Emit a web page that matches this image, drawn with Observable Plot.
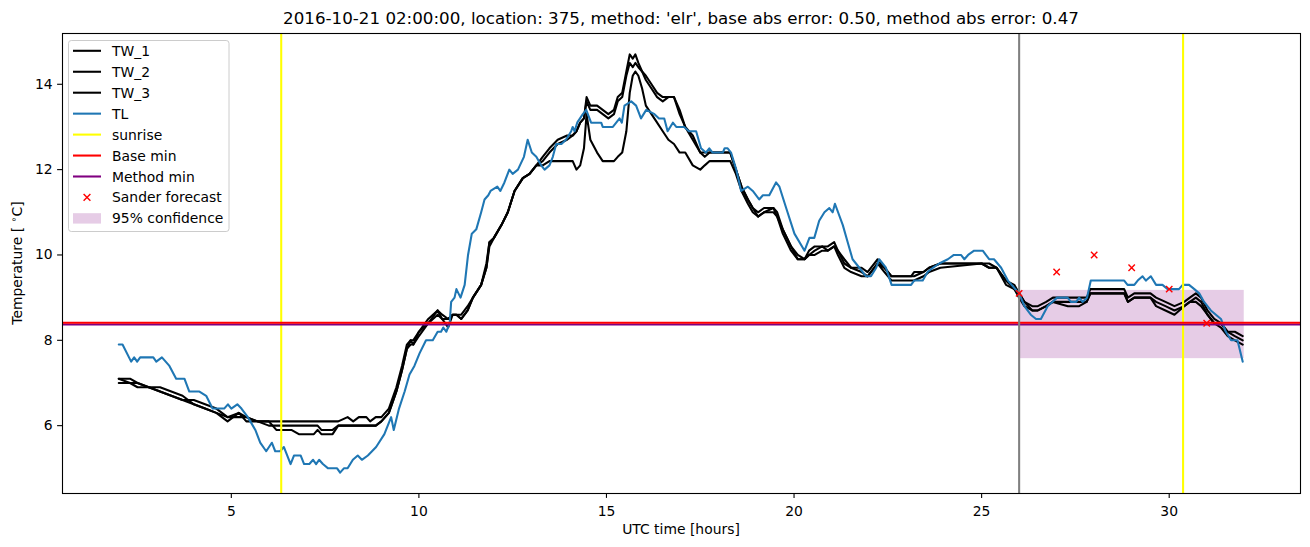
<!DOCTYPE html>
<html><head><meta charset="utf-8">
<script src="https://cdn.jsdelivr.net/npm/d3@7"></script>
<script src="https://cdn.jsdelivr.net/npm/@observablehq/plot@0.6"></script>
<style>html,body{margin:0;padding:0;background:#fff} svg{display:block}</style>
</head><body><div id="chart"></div>
<script>
const titleText = "2016-10-21 02:00:00, location: 375, method: 'elr', base abs error: 0.50, method abs error: 0.47";
const xTicks = [5, 10, 15, 20, 25, 30];
const yTicks = [6, 8, 10, 12, 14];

const tlHours = [2.0,2.1,2.33,2.41,2.49,2.57,2.92,3.0,3.15,3.35,3.53,3.75,3.88,4.15,4.33,4.5,4.81,4.91,5.0,5.16,5.27,5.44,5.64,5.77,5.93,6.08,6.17,6.3,6.4,6.58,6.67,6.85,6.94,7.08,7.18,7.26,7.34,7.44,7.58,7.82,7.9,8.0,8.1,8.24,8.37,8.48,8.64,8.86,9.08,9.26,9.33,9.47,9.62,9.75,9.88,10.02,10.19,10.37,10.5,10.59,10.65,10.73,10.82,10.86,10.95,11.0,11.11,11.22,11.31,11.41,11.53,11.66,11.75,11.85,11.91,12.09,12.17,12.28,12.41,12.5,12.64,12.8,12.9,13.01,13.13,13.26,13.35,13.48,13.57,13.66,13.8,13.92,14.06,14.1,14.15,14.22,14.37,14.46,14.59,14.72,14.86,14.9,15.17,15.26,15.35,15.41,15.48,15.66,15.79,15.92,16.06,16.28,16.4,16.54,16.63,16.77,16.86,17.07,17.2,17.39,17.52,17.65,17.74,17.83,18.1,18.15,18.23,18.32,18.46,18.59,18.77,18.9,19.07,19.17,19.34,19.52,19.61,19.79,20.01,20.28,20.41,20.54,20.67,20.81,20.94,21.03,21.09,21.3,21.43,21.56,21.74,21.92,22.05,22.19,22.27,22.45,22.6,23.12,23.2,23.43,23.56,23.7,23.87,24.1,24.26,24.45,24.54,24.64,24.8,25.03,25.2,25.33,25.52,25.7,26.0,26.14,26.31,26.45,26.58,26.76,27.01,27.29,27.38,27.52,27.6,27.69,27.81,27.91,28.8,28.89,29.07,29.16,29.29,29.38,29.51,29.65,29.82,29.96,30.26,30.36,30.53,30.67,30.8,30.93,31.11,31.38,31.51,31.65,31.73,31.82,31.96];
const tlTemps = [7.9,7.9,7.5,7.6,7.5,7.6,7.6,7.5,7.6,7.4,7.1,7.1,6.8,6.8,6.7,6.4,6.4,6.5,6.4,6.5,6.4,6.2,5.9,5.6,5.4,5.6,5.4,5.4,5.5,5.1,5.3,5.3,5.1,5.1,5.2,5.1,5.2,5.1,5.0,5.0,4.9,5.0,5.0,5.2,5.3,5.2,5.3,5.5,5.8,6.2,5.9,6.4,6.8,7.2,7.4,7.7,8.0,8.0,8.2,8.2,8.3,8.2,8.4,8.9,9.0,9.2,9.0,9.3,10.0,10.5,10.6,11.0,11.3,11.4,11.5,11.6,11.5,11.7,12.0,11.9,12.0,12.3,12.7,12.4,12.3,12.1,12.0,12.1,12.3,12.6,12.6,12.7,12.9,13.0,12.9,13.1,13.3,13.4,13.1,13.1,13.1,13.0,13.0,13.1,13.2,13.1,13.5,13.6,13.5,13.2,13.4,13.3,13.2,13.2,12.9,13.1,13.0,13.0,12.9,12.9,12.5,12.4,12.5,12.4,12.4,12.5,12.5,12.4,12.0,11.5,11.6,11.5,11.3,11.4,11.4,11.7,11.6,11.1,10.5,10.1,10.4,10.4,10.8,11.0,11.1,11.0,11.2,10.7,10.3,9.9,9.7,9.5,9.5,9.7,9.9,9.7,9.3,9.3,9.4,9.4,9.6,9.7,9.8,9.9,10.0,10.0,9.9,10.0,10.1,10.1,9.9,9.9,9.7,9.4,9.1,8.8,8.6,8.5,8.5,8.8,9.0,9.0,8.9,8.9,9.0,8.9,9.0,9.4,9.4,9.3,9.3,9.4,9.5,9.4,9.5,9.3,9.3,9.2,9.2,9.3,9.3,9.2,9.1,8.9,8.7,8.5,8.2,8.0,8.0,8.0,7.5];

const twHours = [2.0,2.3,2.5,2.8,3.1,3.4,3.7,4.0,4.3,4.6,4.9,5.2,5.4,5.7,6.0,6.2,6.6,6.8,7.2,7.3,7.4,7.7,7.85,8.1,8.25,8.4,8.6,8.7,8.85,9.0,9.2,9.4,9.55,9.68,9.78,9.85,10.0,10.25,10.5,10.62,10.78,10.9,11.0,11.13,11.3,11.44,11.66,11.8,11.88,12.0,12.2,12.37,12.55,12.77,12.95,13.13,13.3,13.48,13.7,13.95,14.1,14.2,14.3,14.4,14.47,14.57,14.75,14.9,15.05,15.2,15.3,15.42,15.53,15.62,15.7,15.77,15.85,15.95,16.05,16.2,16.35,16.5,16.65,16.8,16.95,17.1,17.3,17.5,17.62,17.75,18.3,18.45,18.6,18.77,18.9,19.04,19.2,19.45,19.55,19.7,19.92,20.1,20.28,20.4,20.55,20.75,20.9,21.07,21.17,21.34,21.52,21.8,21.96,22.23,22.41,22.6,23.12,23.2,23.45,23.6,23.9,25.0,25.2,25.4,25.65,25.87,26.0,26.14,26.35,26.5,26.72,26.9,27.3,27.6,27.8,27.9,28.8,28.9,29.07,29.5,29.65,29.9,30.14,30.4,30.55,30.71,30.85,31.02,31.2,31.38,31.56,31.75,31.96];
const tw1 = [7.1,7.0,7.0,6.9,6.9,6.8,6.7,6.5,6.4,6.3,
6.2,6.3,6.2,6.1,6.1,6.1,6.1,6.1,6.1,6.1,
6.1,6.1,6.1,6.2,6.1,6.2,6.2,6.1,6.2,6.2,
6.4,6.9,7.4,7.9,8.0,8.0,8.2,8.5,8.7,8.6,
8.5,8.6,8.6,8.6,8.8,9.0,9.3,9.8,10.3,10.4,
10.7,11.0,11.5,11.8,11.9,12.1,12.3,12.5,12.7,12.8,
12.8,12.9,13.1,13.2,13.7,13.5,13.5,13.4,13.3,13.4,
13.7,13.8,14.3,14.7,14.6,14.7,14.5,14.3,14.2,14.0,
13.8,13.7,13.7,13.7,13.4,13.0,12.8,12.4,12.4,12.4,
12.4,12.0,11.6,11.3,11.1,11.0,11.1,11.1,11.0,10.6,
10.2,10.0,9.9,10.1,10.2,10.2,10.2,10.3,10.1,9.9,
9.7,9.7,9.6,9.9,9.7,9.5,9.5,9.6,9.6,9.7,
9.8,9.8,9.8,9.7,9.4,9.3,9.1,8.9,8.8,8.8,
8.9,9.0,9.0,9.0,9.0,9.2,9.2,9.0,9.1,9.1,
9.0,8.9,8.8,8.9,9.0,9.1,9.0,8.7,8.5,8.4,
8.2,8.2,8.1];
const tw2 = [7.1,7.1,7.0,6.9,6.8,6.7,6.6,6.6,6.5,6.4,
6.2,6.2,6.2,6.1,6.0,6.0,6.0,6.0,6.0,6.0,
5.9,5.9,6.0,6.0,6.0,6.0,6.0,6.0,6.0,6.1,
6.3,6.8,7.3,7.8,8.0,7.9,8.2,8.4,8.7,8.5,
8.5,8.6,8.6,8.5,8.7,9.0,9.3,9.7,10.3,10.4,
10.7,11.0,11.5,11.8,11.9,12.1,12.2,12.4,12.6,12.7,
12.8,12.9,13.1,13.2,13.6,13.4,13.4,13.3,13.2,13.3,
13.6,13.7,14.2,14.5,14.4,14.5,14.4,14.3,14.1,13.9,
13.7,13.6,13.7,13.7,13.3,13.0,12.7,12.4,12.3,12.4,
12.4,12.0,11.6,11.3,11.1,10.9,11.0,11.1,10.9,10.6,
10.2,9.9,9.9,10.0,10.1,10.2,10.1,10.2,10.1,9.8,
9.7,9.6,9.5,9.8,9.7,9.5,9.5,9.5,9.6,9.7,
9.8,9.8,9.7,9.7,9.4,9.2,9.1,8.9,8.7,8.7,
8.8,8.9,8.9,8.9,8.9,9.1,9.1,8.9,9.0,9.0,
8.9,8.8,8.7,8.8,8.9,9.0,8.9,8.6,8.4,8.4,
8.2,8.1,8.0];
const tw3 = [7.0,7.0,6.9,6.9,6.8,6.7,6.6,6.5,6.4,6.3,
6.1,6.3,6.1,6.1,6.1,5.9,5.9,5.8,5.8,5.9,
5.8,5.8,6.0,6.0,6.0,6.0,6.0,6.0,6.0,6.1,
6.3,6.8,7.3,7.8,7.9,7.9,8.1,8.4,8.6,8.5,
8.3,8.6,8.6,8.5,8.7,9.0,9.3,9.7,10.2,10.4,
10.7,11.0,11.5,11.8,11.9,12.1,12.1,12.2,12.2,12.2,
12.2,12.0,12.1,12.5,13.3,12.7,12.4,12.2,12.2,12.2,
12.3,12.4,12.9,13.8,14.2,14.3,14.2,13.9,13.5,13.3,
13.1,12.9,12.7,12.6,12.4,12.4,12.1,12.0,12.1,12.2,
12.2,11.9,11.5,11.2,11.0,10.9,11.0,11.0,10.9,10.5,
10.1,9.9,9.9,10.0,10.0,10.1,10.1,10.2,10.0,9.7,
9.6,9.5,9.5,9.8,9.6,9.4,9.4,9.4,9.5,9.6,
9.7,9.8,9.7,9.7,9.3,9.2,9.0,8.8,8.7,8.7,
8.8,8.9,8.8,8.8,8.9,9.1,9.1,8.9,9.0,9.0,
8.8,8.7,8.6,8.8,8.9,8.9,8.8,8.6,8.4,8.3,
8.1,8.0,7.9];

const sunriseHours = [6.33, 30.37];
const forecastStart = 26;
const baseMin = 8.41;
const methodMin = 8.37;
const forecastHours = [26, 27, 28, 29, 30, 31];
const forecastTemps = [9.1, 9.6, 10.0, 9.7, 9.2, 8.4];
const confStart = 26, confEnd = 32, confLow = 7.57, confHigh = 9.17;

const toRows = (hs, vs) => hs.map((h, i) => ({h, v: vs[i]}));
const tlRows = toRows(tlHours, tlTemps);
const tw1Rows = toRows(twHours, tw1);
const tw2Rows = toRows(twHours, tw2);
const tw3Rows = toRows(twHours, tw3);
const fcRows = toRows(forecastHours, forecastTemps);
const band = [{x1: confStart, x2: confEnd, y1: confLow, y2: confHigh}];

const W = 1310, H = 547;
const mL = 62, mR = 10, mT = 33, mB = 54;
const LW = 2.08;
const svg = Plot.plot({
  width: W, height: H,
  marginLeft: mL, marginRight: mR, marginTop: mT, marginBottom: mB,
  x: {domain: [0.5, 33.5]},
  y: {domain: [4.41, 15.19]},
  style: {fontFamily: "DejaVu Sans", fontSize: "13.9px", color: "black", background: "white", overflow: "visible"},
  marks: [
    Plot.rect(band, {x1: "x1", x2: "x2", y1: "y1", y2: "y2", fill: "purple", fillOpacity: 0.2}),
    Plot.line(tw1Rows, {x: "h", y: "v", stroke: "black", strokeWidth: LW}),
    Plot.line(tw2Rows, {x: "h", y: "v", stroke: "black", strokeWidth: LW}),
    Plot.line(tw3Rows, {x: "h", y: "v", stroke: "black", strokeWidth: LW}),
    Plot.line(tlRows, {x: "h", y: "v", stroke: "#1f77b4", strokeWidth: LW}),
    Plot.ruleX(sunriseHours, {stroke: "yellow", strokeWidth: LW}),
    Plot.ruleY([methodMin], {stroke: "purple", strokeWidth: LW}),
    Plot.ruleY([baseMin], {stroke: "red", strokeWidth: LW}),
    Plot.ruleX([forecastStart], {stroke: "gray", strokeWidth: LW}),
    Plot.dot(fcRows, {x: "h", y: "v", symbol: "times", r: 3, stroke: "red", strokeWidth: 1.4}),
    Plot.frame({stroke: "black", strokeWidth: 1.1}),
    Plot.axisX({ticks: xTicks, tickSize: 4.9, tickPadding: 7.6, tickFormat: d => String(d), label: null, strokeWidth: 1.1}),
    Plot.axisY({ticks: yTicks, tickSize: 4.9, tickPadding: 5, tickFormat: d => String(d), label: null, strokeWidth: 1.1})
  ]
});
document.getElementById("chart").appendChild(svg);

const s = d3.select(svg);
const font = "DejaVu Sans";
s.append("text").attr("x", (mL + W - mR) / 2).attr("y", 24)
  .attr("text-anchor", "middle").attr("font-family", font).attr("font-size", "16.7px").attr("fill", "black")
  .text(titleText);
s.append("text").attr("x", (mL + W - mR) / 2).attr("y", 534)
  .attr("text-anchor", "middle").attr("font-family", font).attr("font-size", "13.9px").attr("fill", "black")
  .text("UTC time [hours]");
const yl = s.append("text").attr("transform", `translate(22,${(mT + H - mB) / 2}) rotate(-90)`)
  .attr("text-anchor", "middle").attr("font-family", font).attr("font-size", "13.9px").attr("fill", "black");
yl.append("tspan").text("Temperature [ ");
yl.append("tspan").attr("dy", -5).attr("font-size", "9.7px").text("∘");
yl.append("tspan").attr("dy", 5).text("C]");

// legend
const lg = s.append("g").attr("text-anchor", "start");
lg.append("rect").attr("x", 68.5).attr("y", 40.5).attr("width", 160.5).attr("height", 191).attr("rx", 2.8)
  .attr("fill", "white").attr("fill-opacity", 0.8).attr("stroke", "#cccccc").attr("stroke-width", 1);
const entries = [
  {label: "TW_1", type: "line", color: "black"},
  {label: "TW_2", type: "line", color: "black"},
  {label: "TW_3", type: "line", color: "black"},
  {label: "TL", type: "line", color: "#1f77b4"},
  {label: "sunrise", type: "line", color: "yellow"},
  {label: "Base min", type: "line", color: "red"},
  {label: "Method min", type: "line", color: "purple"},
  {label: "Sander forecast", type: "x", color: "red"},
  {label: "95% confidence", type: "rect", color: "purple"}
];
entries.forEach((e, i) => {
  const cy = 50.8 + i * 20.95;
  if (e.type === "line") {
    lg.append("line").attr("x1", 73).attr("x2", 101).attr("y1", cy).attr("y2", cy)
      .attr("stroke", e.color).attr("stroke-width", LW);
  } else if (e.type === "x") {
    const r = 3.4;
    lg.append("path").attr("d", `M${87 - r},${cy - r}L${87 + r},${cy + r}M${87 - r},${cy + r}L${87 + r},${cy - r}`)
      .attr("stroke", e.color).attr("stroke-width", 1.4);
  } else {
    lg.append("rect").attr("x", 73).attr("y", cy - 5.2).attr("width", 28).attr("height", 10.4)
      .attr("fill", e.color).attr("fill-opacity", 0.2);
  }
  lg.append("text").attr("x", 112).attr("y", cy).attr("dy", "0.36em").attr("text-anchor", "start")
    .attr("font-family", font).attr("font-size", "13.9px").attr("fill", "black").text(e.label);
});
</script>
</body></html>
